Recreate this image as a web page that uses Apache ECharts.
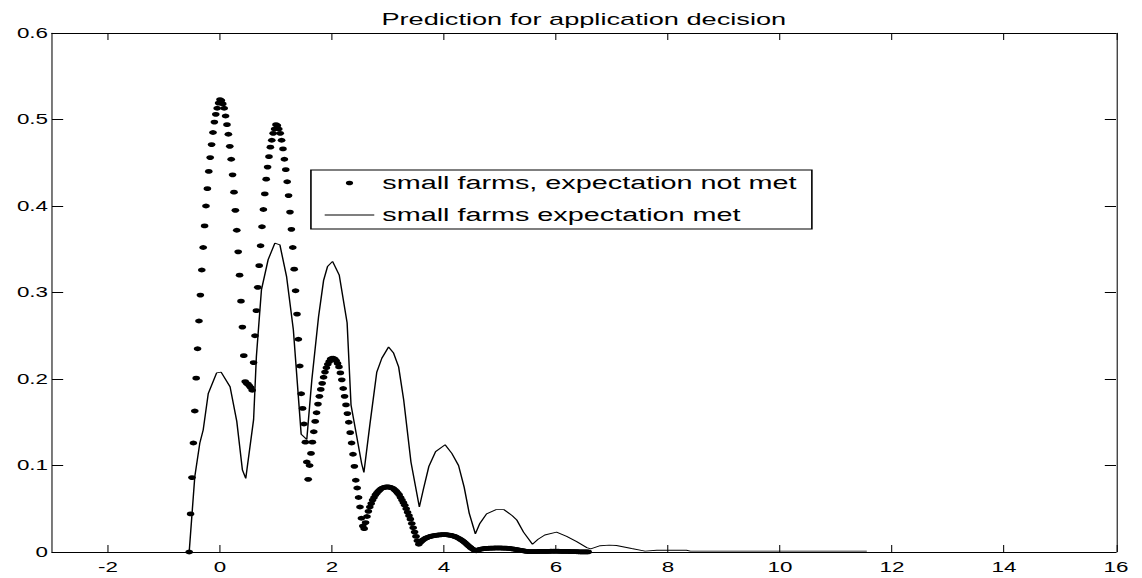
<!DOCTYPE html>
<html>
<head>
<meta charset="utf-8">
<title>Prediction for application decision</title>
<script src="https://cdn.jsdelivr.net/npm/echarts@6/dist/echarts.min.js"></script>
<style>
    html, body { margin: 0; padding: 0; background: #fff; overflow: hidden; }
    /* the original figure is stretched sideways, so the chart is drawn narrow and widened */
    #chart { width: 714px; height: 578px; transform: scaleX(1.59944); transform-origin: 0 0; }
</style>
</head>
<body>
<div id="chart"></div>
<script>
const seriesNames = ['small farms, expectation not met', 'small farms expectation met']

const xTickValues = [-2, 0, 2, 4, 6, 8, 10, 12, 14, 16]

// dotted series, sampled every 0.025 starting at x = -0.55
const notMetStartX = -0.55
const notMetStepX = 0.025
const notMetY = [
    0, 0.044, 0.086, 0.126, 0.163, 0.201, 0.235, 0.267, 0.297, 0.326, 0.352, 0.377,
    0.400, 0.420, 0.440, 0.456, 0.471, 0.485, 0.497, 0.506, 0.513, 0.519, 0.523,
    0.522, 0.518, 0.513, 0.504, 0.494, 0.483, 0.469, 0.454, 0.436, 0.416, 0.395, 0.372,
    0.347, 0.320, 0.290, 0.260, 0.227,
    0.197, 0.195, 0.194, 0.192, 0.190, 0.187,
    0.219, 0.250, 0.279, 0.306, 0.331, 0.354, 0.376, 0.396, 0.414, 0.431, 0.445, 0.457,
    0.468, 0.476, 0.484, 0.489, 0.494,
    0.493, 0.489, 0.484, 0.476, 0.466, 0.454, 0.442, 0.428, 0.412, 0.393, 0.373, 0.352,
    0.327, 0.302, 0.275, 0.246, 0.215, 0.183, 0.166, 0.148, 0.127, 0.104, 0.084,
    0.100, 0.114, 0.127, 0.139, 0.151, 0.161, 0.171, 0.180, 0.188, 0.195, 0.202, 0.208,
    0.213, 0.217, 0.220, 0.223, 0.224,
    0.224, 0.223, 0.221, 0.218, 0.214, 0.207, 0.199, 0.189, 0.180, 0.170, 0.160, 0.150,
    0.138, 0.126, 0.113, 0.099, 0.083, 0.074, 0.063, 0.052, 0.039, 0.030, 0.027,
    0.034, 0.041, 0.047, 0.052, 0.056, 0.060, 0.063, 0.066, 0.068, 0.070, 0.0715, 0.073,
    0.074, 0.0745, 0.075, 0.0752, 0.0752, 0.075, 0.0745, 0.074, 0.073, 0.0715, 0.070, 0.068,
    0.066, 0.063, 0.060, 0.057, 0.054, 0.050, 0.046, 0.042, 0.038, 0.033, 0.028, 0.023,
    0.018, 0.013, 0.009,
    0.011, 0.0125, 0.014, 0.015, 0.016, 0.0167, 0.0173, 0.0178, 0.0183, 0.0187, 0.019, 0.0193,
    0.0195, 0.0197, 0.0198, 0.0199, 0.020, 0.020, 0.020, 0.0199, 0.0197, 0.0195, 0.0192, 0.0188,
    0.0183, 0.0177, 0.017, 0.0162, 0.0153, 0.0143, 0.0132, 0.012, 0.0107, 0.0093, 0.0078, 0.0064,
    0.005, 0.0038, 0.0028, 0.002, 0.0015,
    0.0022, 0.0028, 0.0032, 0.0035, 0.0038, 0.004, 0.0041, 0.0042, 0.0043, 0.0044, 0.0045, 0.0045,
    0.0046, 0.0046, 0.0046, 0.0046, 0.0046, 0.0046, 0.0045, 0.0045, 0.0044, 0.0043, 0.0042, 0.004,
    0.0038, 0.0036, 0.0034, 0.0031, 0.0028, 0.0025, 0.0022, 0.0019, 0.0016, 0.0013, 0.001, 0.0008,
    0.0006, 0.0005, 0.0004,
    0.0004, 0.0004, 0.0005, 0.0005, 0.0006, 0.0006, 0.0007, 0.0007, 0.0007, 0.0008, 0.0008, 0.0008,
    0.0008, 0.0009, 0.0009, 0.0009, 0.0009, 0.0009, 0.0009, 0.0009, 0.0008, 0.0008, 0.0008, 0.0008,
    0.0007, 0.0007, 0.0006, 0.0006, 0.0005, 0.0005, 0.0004, 0.0004, 0.0003, 0.0003, 0.0002, 0.0002,
    0.0002, 0.0001, 0.0001, 0.0001, 0.0001
]

// solid series, read vertex by vertex
const metX = [
    -0.55, -0.45, -0.36, -0.30, -0.21, -0.06, 0.02, 0.18, 0.30, 0.40, 0.46, 0.60,
    0.65, 0.74, 0.86, 0.98, 1.07, 1.19, 1.31, 1.45, 1.55, 1.64, 1.76, 1.85,
    1.92, 2.01, 2.13, 2.27, 2.34, 2.53, 2.57, 2.68, 2.80, 2.89, 3.01, 3.10,
    3.19, 3.28, 3.41, 3.56, 3.63, 3.73, 3.85, 4.02, 4.14, 4.26, 4.36, 4.45,
    4.56, 4.64, 4.76, 4.93, 5.07, 5.22, 5.30, 5.42, 5.58, 5.68, 5.80, 6.01,
    6.19, 6.37, 6.55, 6.62, 6.79, 6.95, 7.08, 7.35, 7.59, 7.80, 8.33, 8.40, 11.55
]
const metY = [
    0, 0.087, 0.126, 0.141, 0.183, 0.207, 0.208, 0.191, 0.151, 0.095, 0.085, 0.153,
    0.226, 0.303, 0.338, 0.357, 0.355, 0.318, 0.257, 0.136, 0.130, 0.199, 0.272, 0.314,
    0.330, 0.336, 0.320, 0.265, 0.170, 0.102, 0.092, 0.149, 0.208, 0.224, 0.237, 0.230,
    0.214, 0.176, 0.104, 0.052, 0.072, 0.099, 0.116, 0.124, 0.114, 0.100, 0.075, 0.045,
    0.021, 0.033, 0.044, 0.049, 0.049, 0.042, 0.037, 0.023, 0.009, 0.0147, 0.0197, 0.023,
    0.018, 0.012, 0.005, 0.0035, 0.0073, 0.008, 0.0075, 0.004, 0.001, 0.002, 0.002, 0.001, 0.001
]

const fontFamily = '"Liberation Sans", Arial, sans-serif'

const notMetData = notMetY.map((y, i) => [+(notMetStartX + i * notMetStepX).toFixed(3), y])
const metData = metX.map((x, i) => [x, metY[i]])

const chart = echarts.init(document.getElementById('chart'), null, {renderer: 'svg'})

const xAxisBase = {
    type: 'value',
    min: -3,
    max: 16,
    axisLine: {onZero: false, lineStyle: {color: '#000', width: 1}},
    axisTick: {inside: true, length: 7, customValues: xTickValues, lineStyle: {color: '#000', width: 0.65}},
    splitLine: {show: false}
}
const yAxisBase = {
    type: 'value',
    min: 0,
    max: 0.6,
    interval: 0.1,
    axisLine: {show: true, onZero: false, lineStyle: {color: '#000', width: 0.65}},
    axisTick: {show: true, inside: true, length: 7, lineStyle: {color: '#000', width: 1}},
    splitLine: {show: false}
}

const option = {
    animation: false,
    backgroundColor: '#fff',
    title: {
        text: 'Prediction for application decision',
        left: 365,
        textAlign: 'center',
        top: 10,
        padding: 0,
        textStyle: {fontFamily: fontFamily, fontSize: 17, fontWeight: 'normal', color: '#000'}
    },
    legend: {
        left: 194.4,
        top: 170,
        orient: 'vertical',
        selectedMode: false,
        padding: [3, 9.5, 4, 8.6],
        itemGap: 12,
        itemWidth: 31,
        itemHeight: 4.6,
        borderColor: '#000',
        borderWidth: 1,
        backgroundColor: '#fff',
        textStyle: {fontFamily: fontFamily, fontSize: 18, lineHeight: 20, color: '#000'},
        data: [
            {name: seriesNames[0], icon: 'circle'},
            {name: seriesNames[1], icon: 'path://M0,0 H30 V1 H0 Z'}
        ]
    },
    grid: {left: 32.5, right: 16.25, top: 33, bottom: 26},
    xAxis: [
        Object.assign({}, xAxisBase, {
            position: 'bottom',
            axisLabel: {customValues: xTickValues, margin: 8, fontFamily: fontFamily, fontSize: 14, color: '#000'}
        }),
        Object.assign({}, xAxisBase, {
            position: 'top',
            axisLabel: {show: false}
        })
    ],
    yAxis: [
        Object.assign({}, yAxisBase, {
            position: 'left',
            axisLabel: {margin: 2.5, fontFamily: fontFamily, fontSize: 14, color: '#000'}
        }),
        Object.assign({}, yAxisBase, {
            position: 'right',
            axisLabel: {show: false}
        })
    ],
    series: [
        {
            name: seriesNames[0],
            type: 'scatter',
            symbol: 'circle',
            symbolSize: 4.8,
            itemStyle: {color: '#000', opacity: 1},
            silent: true,
            data: notMetData
        },
        {
            name: seriesNames[1],
            type: 'line',
            symbol: 'none',
            itemStyle: {color: '#000'},
            lineStyle: {color: '#000', width: 0.9},
            silent: true,
            data: metData
        }
    ]
}

chart.setOption(option)
</script>
</body>
</html>
